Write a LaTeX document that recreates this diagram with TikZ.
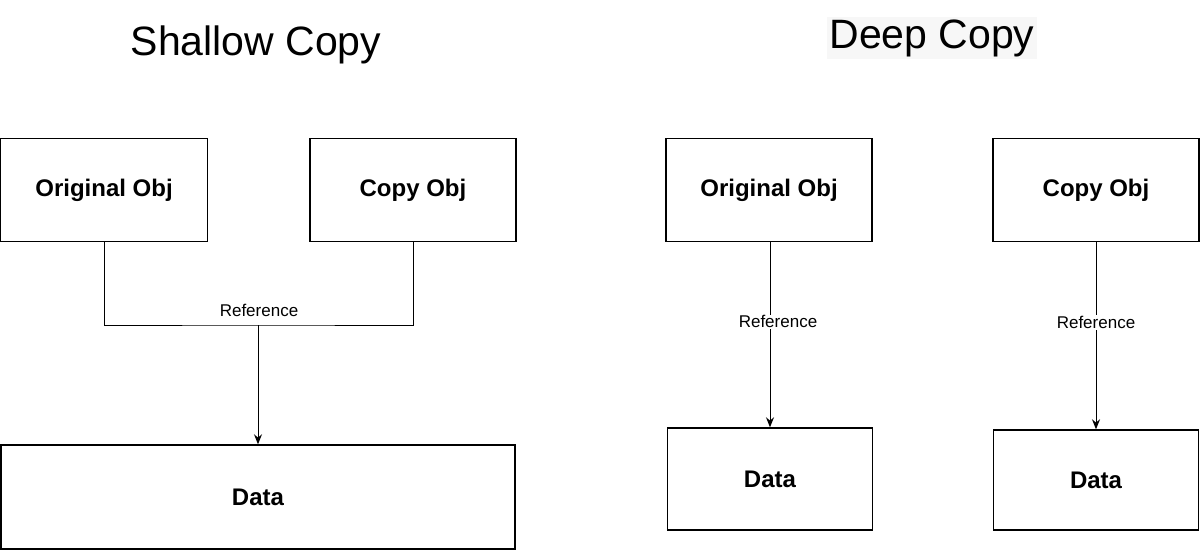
\documentclass[tikz,border=0pt]{standalone}
\usepackage{fontspec}
\setmainfont{Liberation Sans}
\usetikzlibrary{arrows.meta}
\begin{document}
\begin{tikzpicture}[x=1pt,y=-1pt,
  box/.style={draw,line width=1.4pt,font=\fontsize{24}{28}\selectfont\bfseries},
  conn/.style={line width=1pt},
  arr/.style={conn,-{Stealth[length=10pt,width=8pt]}},
  lbl/.style={fill=white,inner sep=1pt,font=\fontsize{17}{20}\selectfont},
  ttl/.style={font=\fontsize{41}{46}\selectfont}]
\useasboundingbox (0,0) rectangle (1200,550);
\node[ttl] (t1) at (256,45) {Shallow Copy};
\node[ttl,fill=black!3,inner sep=2pt] (t2) at (932,38) {Deep Copy};
% shallow
\node[box,minimum width=207pt,minimum height=103pt] (so) at (104,190) {Original Obj};
\node[box,minimum width=206pt,minimum height=103pt] (sc) at (413,190) {Copy Obj};
\node[box,minimum width=514pt,minimum height=104pt] (sd) at (258,497) {Data};
\coordinate (j) at (258,325);
\draw[conn] (so.south) |- (j) -| (sc.south);
\draw[arr] (j) -- (sd.north);
\node[font=\fontsize{17}{20}\selectfont] (sl) at (259,310) {Reference};
% deep
\node[box,minimum width=206pt,minimum height=103pt] (do) at (769,190) {Original Obj};
\node[box,minimum width=206pt,minimum height=103pt] (dc) at (1096,190) {Copy Obj};
\node[box,minimum width=205pt,minimum height=102pt] (dd1) at (770,479) {Data};
\node[box,minimum width=205pt,minimum height=100pt] (dd2) at (1096,480) {Data};
\draw[arr] (do.south -| dd1.north) -- node[lbl,pos=0.43,xshift=8pt] {Reference} (dd1.north);
\draw[arr] (dc.south) -- node[lbl,pos=0.43] {Reference} (dd2.north);
\end{tikzpicture}
\end{document}
